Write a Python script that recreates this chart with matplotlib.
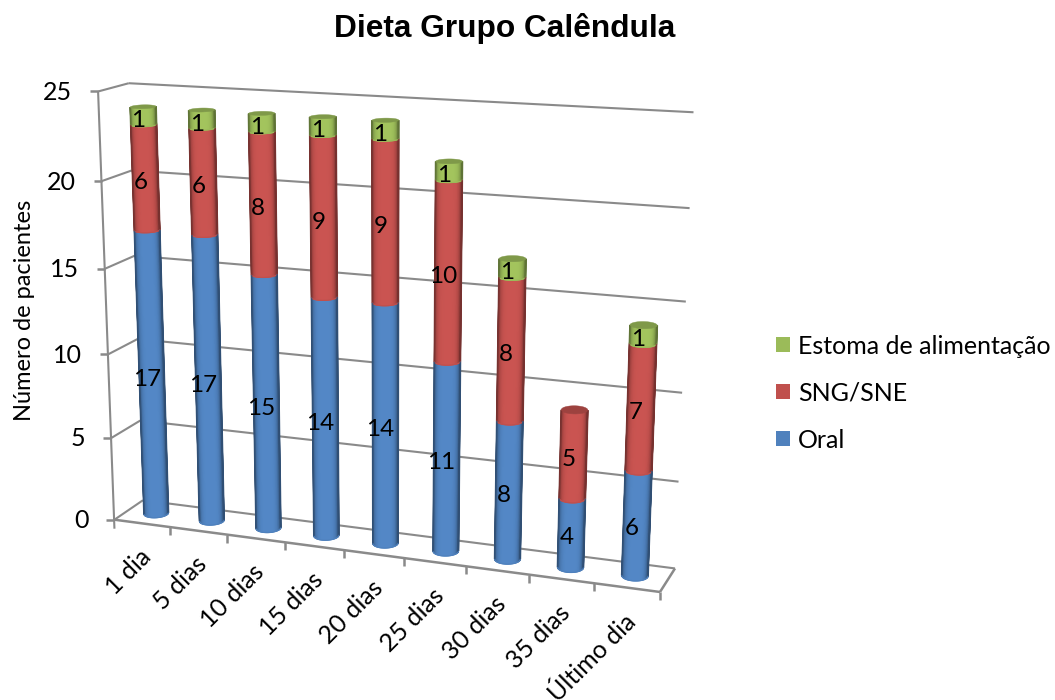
import numpy as np
import matplotlib
matplotlib.use('Agg')
from matplotlib import pyplot as plt
from matplotlib.colors import LinearSegmentedColormap, to_rgb
from matplotlib.patches import Patch

# dados do grafico
dias = ['1 dia', '5 dias', '10 dias', '15 dias', '20 dias', '25 dias', '30 dias', '35 dias', 'Último dia']
oral = [17, 17, 15, 14, 14, 11, 8, 4, 6]
sng_sne = [6, 6, 8, 9, 9, 10, 8, 5, 7]
estoma = [1, 1, 1, 1, 1, 1, 1, 0, 1]
series_nomes = ['Oral', 'SNG/SNE', 'Estoma de alimentação']
yticks = [0, 5, 10, 15, 20, 25]

cores = ['#4F81BD', '#C0504D', '#9BBB59']
grade = '#8A8A8A'

# camera: pontos da caixa 3D (categoria, profundidade, valor) -> pixel
caixa = [(0, 0, 0), (9, 0, 0), (9, 1, 0), (0, 1, 0), (0, 0, 25), (0, 1, 25), (9, 1, 25),
         (0, 0, 20), (0, 1, 20), (9, 1, 20), (0, 0, 15), (0, 1, 15), (9, 1, 15),
         (1, 0, 0), (2, 0, 0), (3, 0, 0), (7, 0, 0), (8, 0, 0)]
tela = [(114, 519), (660, 592), (675, 568), (143, 500), (98, 92), (128, 83), (693, 112),
        (102, 181), (132, 170), (690, 208), (105, 268), (135, 257), (686, 302),
        (169, 527), (228, 535), (285, 543), (529, 575), (594, 583)]
A, b = [], []
for (X, Y, Z), (u, v) in zip(caixa, tela):
    A.append([X, Y, Z, 1, 0, 0, 0, 0, -u * X, -u * Y, -u * Z])
    A.append([0, 0, 0, 0, X, Y, Z, 1, -v * X, -v * Y, -v * Z])
    b += [u, v]
P = np.append(np.linalg.lstsq(np.array(A, float), np.array(b, float), rcond=None)[0], 1).reshape(3, 4)


def proj(x, y, z):
    x, y, z = np.broadcast_arrays(x, y, z)
    q = P @ np.array([x, y, z, np.ones_like(x)], dtype=float)
    return q[0] / q[2], q[1] / q[2]


def linha(ax, p0, p1, lw=1.5):
    ax.plot([p0[0], p1[0]], [p0[1], p1[1]], color=grade, lw=lw, solid_capstyle='butt', zorder=1)


def cilindro(ax, i, z0, z1, cor, topo=False, rx=0.195, ry=0.21):
    t = np.linspace(0, 2 * np.pi, 121)[:-1]
    cx, cy = i + 0.5, 0.5
    px, py = proj(cx + rx * np.cos(t), cy + ry * np.sin(t), z0)
    e, d = np.argmin(px), np.argmax(px)
    # vai da silhueta esquerda ate a direita pela frente do cilindro
    ang = t[e] + np.linspace(0, (t[d] - t[e]) % (2 * np.pi), 37)
    xc0, yc0 = proj(cx + rx * np.cos(ang), cy + ry * np.sin(ang), z0)
    xc1, yc1 = proj(cx + rx * np.cos(ang), cy + ry * np.sin(ang), z1)
    base = np.array(to_rgb(cor))
    meio = (xc0[0] + xc0[-1]) / 2
    larg = (xc0[-1] - xc0[0]) / 2
    s = np.abs(xc0 - meio) / larg
    # sombra suave nas bordas do cilindro
    cmap = LinearSegmentedColormap.from_list('sombra', [np.clip(base * 1.05, 0, 1), base * 0.6])
    ax.pcolormesh(np.array([xc0, xc1]), np.array([yc0, yc1]), np.array([s, s]) ** 5, cmap=cmap,
                  vmin=0, vmax=1, shading='gouraud', zorder=3)
    # contorno para suavizar a silhueta e a base
    for j in (0, -1):
        ax.plot([xc0[j], xc1[j]], [yc0[j], yc1[j]], color=base * 0.62, lw=1.3, alpha=0.8,
                solid_capstyle='butt', zorder=3.5)
    ax.plot(xc0, yc0, color=base * 1.0, lw=0.9, zorder=3.4)
    if topo:
        tx, ty = proj(cx + rx * np.cos(t), cy + ry * np.sin(t), z1)
        ax.fill(tx, ty, color=base * 0.82, lw=0.3, zorder=4)


fig = plt.figure(figsize=(10.55, 7), dpi=100)
ax = fig.add_axes([0, 0, 1, 1])
ax.axis('off')

# paredes e chao
for v in yticks:
    frente = proj(0, 0, v)
    fundo_esq = proj(0, 1, v)
    fundo_dir = proj(len(dias), 1, v)
    linha(ax, frente, fundo_esq)
    linha(ax, fundo_esq, fundo_dir)
    linha(ax, (frente[0] - 8, frente[1]), frente, lw=1.8)
    ax.text(frente[0] - 26, frente[1] + 1, str(v), ha='right', va='center', fontsize=18, family='Lato')
linha(ax, proj(0, 0, 25), (proj(0, 0, 0)[0], proj(0, 0, 0)[1] + 9))
linha(ax, proj(0, 0, 0), proj(len(dias), 0, 0), lw=1.8)
linha(ax, proj(len(dias), 0, 0), proj(len(dias), 1, 0), lw=1.8)
for i in range(1, len(dias) + 1):
    xt, yt = proj(i, 0, 0)
    linha(ax, (xt, yt), (xt, yt + 8), lw=1.8)

# cilindros empilhados e rotulos de valor
for i in range(len(dias)):
    acum = 0
    vals = [oral[i], sng_sne[i], estoma[i]]
    ultimo = max(k for k in range(3) if vals[k] > 0)
    for k, val in enumerate(vals):
        if val == 0:
            continue
        cilindro(ax, i, acum, acum + val, cores[k], topo=(k == ultimo))
        xl, yl = proj(i + 0.5, 0.5, acum + val / 2)
        ax.text(xl - 5, yl + 5, str(val), ha='center', va='center', fontsize=17.5, family='Lato', color='black', zorder=6)
        acum += val

# rotulos das categorias
for i, nome in enumerate(dias):
    xt, yt = proj(i + 0.5, 0, 0)
    ax.text(xt + 5, yt + 30, nome, rotation=45, rotation_mode='anchor', ha='right', va='center',
            fontsize=18, family='Lato', clip_on=True)

ax.text(25, 310, 'Número de pacientes', rotation=90, ha='center', va='center', fontsize=17, family='Lato')
ax.text(505, 29, 'Dieta Grupo Calêndula', ha='center', va='center', fontsize=22.8, weight='bold',
        family='Liberation Sans')

handles = [Patch(facecolor=cores[k], label=series_nomes[k]) for k in (2, 1, 0)]
ax.legend(handles=handles, loc='center left', bbox_to_anchor=(776, 393), bbox_transform=ax.transData,
          frameon=False, prop={'family': 'Lato', 'size': 18}, handlelength=0.56, handleheight=0.56,
          handletextpad=0.32, labelspacing=0.96, borderpad=0, borderaxespad=0)

ax.set_xlim(0, 1055)
ax.set_ylim(700, 0)
plt.savefig('out.png', dpi=100)
